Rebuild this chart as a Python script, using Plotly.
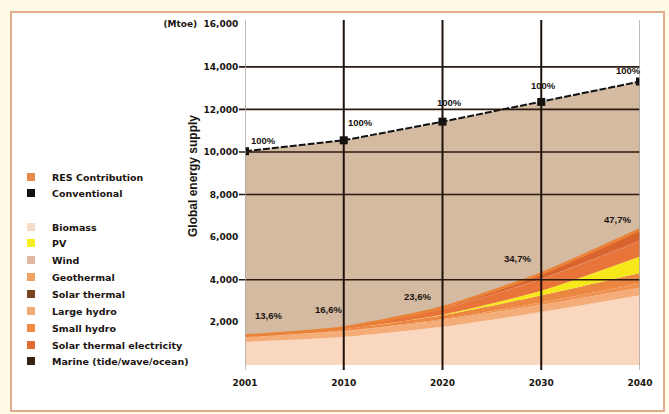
import plotly.graph_objects as go

# ---- data (Mtoe) ----
years = ["2001", "2010", "2020", "2030", "2040"]
total_supply = [10038, 10549, 11425, 12352, 13310]
biomass = [1080, 1313, 1791, 2483, 3271]
large_hydro = [222.7, 266, 309, 341, 358]
small_hydro = [9.5, 19, 49, 106, 189]
geothermal = [43.2, 86, 186, 333, 493]
wind = [4.7, 44, 266, 542, 688]
pv = [0.2, 2, 24, 221, 784]
solar_thermal_el = [0.1, 0.4, 3, 16, 68]
solar_thermal = [4.1, 15, 66, 244, 480]
marine = [0.05, 0.1, 0.4, 3, 20]
res_share_labels = ["13,6%", "16,6%", "23,6%", "34,7%", "47,7%"]
total_labels = ["100%", "100%", "100%", "100%", "100%"]
y_ticks = [2000, 4000, 6000, 8000, 10000, 12000, 14000, 16000]
ruled_lines = [4000, 8000, 10000, 12000, 14000]

# ---- page geometry ----
W, H = 669, 414
ML, MR, MT, MB = 245, 29, 20, 44
PW, PH = W - ML - MR, H - MT - MB


def px(x):
    return (x - ML) / PW


def py(y):
    return (H - MB - y) / PH


xi = list(range(len(years)))
FONT = "Liberation Sans, Arial, sans-serif"
WIDE = "DejaVu Sans, Liberation Sans, sans-serif"
INK = "#1a1410"

# stacking order, bottom to top, with the fill used in the plot
layers = [
    ("Biomass", biomass, "#f9d8bf"),
    ("Large hydro", large_hydro, "#f4ad78"),
    ("Small hydro", small_hydro, "#ef9150"),
    ("Geothermal", geothermal, "#ec8742"),
    ("PV", pv, "#f6e81a"),
    ("Wind", wind, "#e8743a"),
    ("Solar thermal electricity", solar_thermal_el, "#e0602a"),
    ("Solar thermal", solar_thermal, "#d9632c"),
    ("Marine (tide/wave/ocean)", marine, "#9a4a20"),
]

res_total = [sum(v[i] for _, v, _ in layers) for i in xi]
conventional = [total_supply[i] - res_total[i] for i in xi]

fig = go.Figure()
for name, vals, col in layers:
    fig.add_trace(go.Scatter(
        x=xi, y=vals, name=name, stackgroup="s", mode="none",
        fillcolor=col, line=dict(width=0, shape="spline", smoothing=0.6),
        showlegend=False, hoverinfo="skip"))
fig.add_trace(go.Scatter(
    x=xi, y=conventional, name="Conventional", stackgroup="s", mode="none",
    fillcolor="#d3baa1", line=dict(width=0, shape="spline", smoothing=0.6),
    showlegend=False, hoverinfo="skip"))

# orange rim along the top of the renewable contribution
fig.add_trace(go.Scatter(
    x=xi, y=res_total, mode="lines",
    line=dict(color="#ea8238", width=3, shape="spline", smoothing=0.6),
    showlegend=False, hoverinfo="skip"))

# ruled horizontal lines and vertical year lines
shapes = []
for v in ruled_lines:
    shapes.append(dict(type="line", xref="paper", yref="y", x0=px(239), x1=1,
                       y0=v, y1=v, line=dict(color="#2a1a10", width=1.6),
                       layer="above"))
for i in xi:
    edge = i in (0, len(xi) - 1)
    shapes.append(dict(type="line", xref="x", yref="paper", x0=i, x1=i,
                       y0=0, y1=1,
                       line=dict(color="#a8a8a8" if edge else "#1e120a",
                                 width=1.5 if edge else 2),
                       layer="above"))

# panel frame
shapes.insert(0, dict(type="rect", xref="paper", yref="paper",
                      x0=px(11), x1=px(664), y0=py(411), y1=py(12),
                      fillcolor="#ffffff", line=dict(color="#e0ae8e", width=2),
                      layer="below"))

fig.add_trace(go.Scatter(
    x=xi, y=total_supply, mode="lines+markers",
    line=dict(color="#111111", width=2, dash="7px,2px"),
    marker=dict(symbol="square", size=8, color="#111111"),
    showlegend=False, hoverinfo="skip"))

bold = dict(family=FONT, size=10, color=INK, weight="bold")
wide = dict(family=WIDE, size=9.5, color=INK, weight="bold")

annotations = []
total_offsets = [(18, 11), (17, 18), (7, 19), (2, 16), (-12, 11)]
for i in xi:
    dx, dy = total_offsets[i]
    annotations.append(dict(x=i, y=total_supply[i], text=total_labels[i],
                            showarrow=False, xshift=dx, yshift=dy,
                            font=dict(bold, size=9.5)))
res_offsets = [(23, 20), (-15, 18), (-25, 11), (-24, 15), (-23, 10)]
for i in xi:
    dx, dy = res_offsets[i]
    annotations.append(dict(x=i, y=res_total[i], text=res_share_labels[i],
                            showarrow=False, xshift=dx, yshift=dy,
                            font=dict(bold, size=9.5)))

# y axis title
annotations.append(dict(xref="paper", yref="paper", x=px(184), y=py(176),
                        text="Global energy supply", textangle=-90,
                        showarrow=False, font=dict(bold, size=12)))

# legend drawn by hand
legend_items = [
    ("RES Contribution", "#e38a4c", 177),
    ("Conventional", "#111111", 193),
    ("Biomass", "#f7dcc8", 227),
    ("PV", "#f2ee20", 243),
    ("Wind", "#e0b8a0", 260),
    ("Geothermal", "#f0a262", 277),
    ("Solar thermal", "#7a4420", 294),
    ("Large hydro", "#f0aa74", 311),
    ("Small hydro", "#ef8c48", 328),
    ("Solar thermal electricity", "#e56a32", 345),
    ("Marine (tide/wave/ocean)", "#3a2212", 361),
]
for label, col, yc in legend_items:
    shapes.append(dict(type="rect", xref="paper", yref="paper",
                       x0=px(27), x1=px(35), y0=py(yc + 4), y1=py(yc - 4),
                       fillcolor=col, line=dict(width=0), layer="above"))
    annotations.append(dict(xref="paper", yref="paper", x=px(50), y=py(yc),
                            text=label, showarrow=False, xanchor="left",
                            yanchor="middle", font=wide))

tick_text = [f"{v:,}" for v in y_ticks]
tick_text[-1] = "(Mtoe)  " + tick_text[-1]

fig.update_layout(
    width=W, height=H,
    margin=dict(l=ML, r=MR, t=MT, b=MB),
    paper_bgcolor="#fffbe6",
    plot_bgcolor="rgba(0,0,0,0)",
    shapes=shapes,
    annotations=annotations,
    showlegend=False,
    xaxis=dict(range=[0, len(xi) - 1], tickvals=xi, ticktext=years,
               showgrid=False, zeroline=False, showline=False,
               ticks="", ticklabelstandoff=6, tickfont=dict(wide, size=9)),
    yaxis=dict(range=[-240, 16200], tickvals=y_ticks, ticktext=tick_text,
               showgrid=False, zeroline=False, showline=False,
               ticks="outside", ticklen=4, tickcolor="rgba(0,0,0,0)",
               tickfont=dict(wide, size=9)),
)

fig.write_html("out.html")
